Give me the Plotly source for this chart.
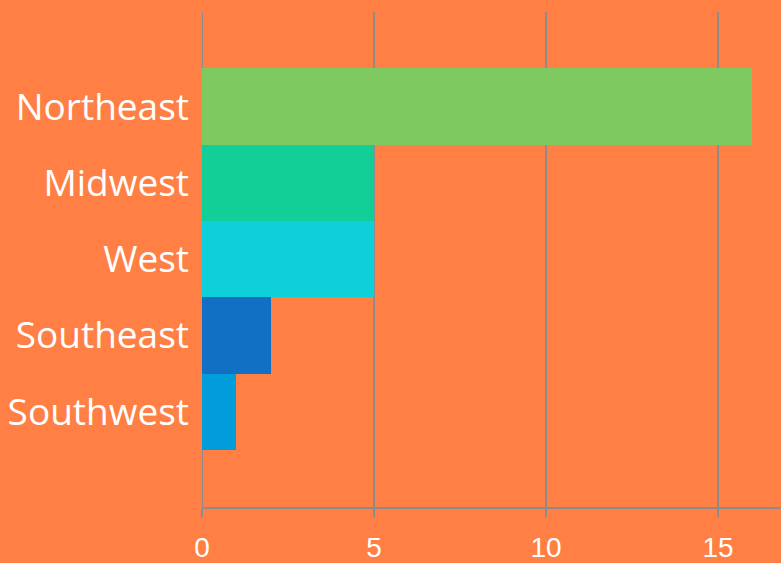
import plotly.graph_objects as go

regions = ["Southwest", "Southeast", "West", "Midwest", "Northeast"]
values = [1, 2, 5, 5, 16]
colors = ["#009DDA", "#116FC4", "#0ED0D8", "#12CF97", "#7ECA61"]
x_ticks = [0, 5, 10, 15]

fig = go.Figure(go.Bar(
    y=regions, x=values, orientation="h",
    marker=dict(color=colors, line=dict(width=0)),
    width=1,
))

fig.update_layout(
    width=781, height=563,
    paper_bgcolor="#FF7F45", plot_bgcolor="#FF7F45",
    margin=dict(l=202, r=0, t=12, b=53),
    showlegend=False,
    bargap=0,
)
fig.update_xaxes(
    range=[0, 16.83], tickvals=x_ticks, ticktext=[str(v) for v in x_ticks],
    showgrid=True, gridcolor="#8C8C8C", gridwidth=2,
    showline=True, linecolor="#8C8C8C", linewidth=2,
    ticks="outside", ticklen=8, tickcolor="#8C8C8C", tickwidth=2,
    tickfont=dict(family="Liberation Sans", size=28, color="white"),
    zeroline=False, ticklabelstandoff=6,
)
fig.update_yaxes(
    categoryorder="array", categoryarray=regions,
    range=[-1.25, 5.24],
    showgrid=False, zeroline=False, showline=False, ticks="",
    tickfont=dict(family="Open Sans", size=37, color="white"),
    ticklabelstandoff=12,
)
fig.add_shape(type="line", xref="x", yref="paper", x0=0, x1=0, y0=0, y1=1,
              line=dict(color="#8C8C8C", width=2), layer="below")

fig.write_html(
    "out.html",
    config={"displayModeBar": False},
    post_script="document.body.style.margin='0';document.body.style.background='#FF7F45';",
)
